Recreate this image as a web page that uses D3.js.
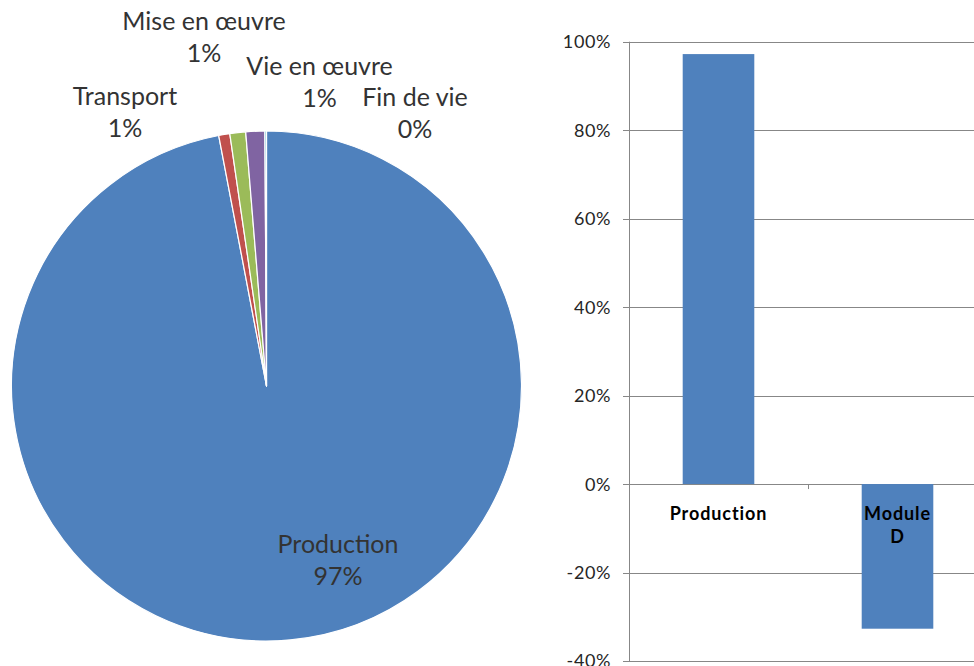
<!DOCTYPE html>
<html>
<head>
<meta charset="utf-8">
<script src="https://cdn.jsdelivr.net/npm/d3@7"></script>
<style>
  body { margin: 0; background: #fff; }
  svg { display: block; }
  text { font-family: Lato, "Open Sans", sans-serif; }
</style>
</head>
<body>
<div id="chart"></div>
<script>
// pie data (share of impact by life-cycle stage, %)
const pieStages = ['Production', 'Transport', 'Mise en œuvre', 'Vie en œuvre', 'Fin de vie'];
const pieValues = [97.0, 0.7, 1.0, 1.2, 0.1];
const pieColors = ['#4F81BD', '#C0504D', '#9BBB59', '#8064A2', '#4BACC6'];
// label anchor offsets from pie centre (Excel placed these by hand)
const pieLabelOffsets = [[71.5, 167], [-141.5, -281], [-62.5, -356], [53, -311], [148.5, -280]];

// bar data
const barCategories = [['Production'], ['Module', 'D']];
const barValues = [97.2, -32.7];
const yTicks = [-40, -20, 0, 20, 40, 60, 80, 100];

const W = 974, H = 666;
const svg = d3.select('#chart').append('svg')
  .attr('width', W)
  .attr('height', H);

// ---- Pie ----
const cx = 266.5, cy = 386, r = 255;
const pie = d3.pie().sort(null).value(d => d);
const arc = d3.arc().innerRadius(0).outerRadius(r);
const arcs = pie(pieValues);

const pg = svg.append('g')
  .attr('transform', 'translate(' + cx + ',' + cy + ')');

pg.selectAll('path')
  .data(arcs)
  .enter().append('path')
    .attr('d', arc)
    .attr('fill', (d, i) => pieColors[i])
    .attr('stroke', '#fff')
    .attr('stroke-width', 1.2)
    .attr('stroke-linejoin', 'round');

const fmt = d3.format('.0f');
const labels = pg.selectAll('text.plabel')
  .data(arcs)
  .enter().append('text')
    .attr('class', 'plabel')
    .attr('text-anchor', 'middle')
    .attr('font-size', '25px')
    .attr('fill', '#333')
    .attr('transform', (d, i) => 'translate(' + pieLabelOffsets[i][0] + ',' + pieLabelOffsets[i][1] + ')');
labels.append('tspan')
  .attr('x', 0)
  .text((d, i) => pieStages[i]);
labels.append('tspan')
  .attr('x', 0)
  .attr('dy', 32)
  .text(d => fmt(d.data) + '%');

// ---- Bars ----
const margin = {left: 629, right: -13};
const y = d3.scaleLinear().domain([-40, 100]).range([661, 41.7]);
const x = d3.scaleBand()
  .domain(barCategories.map(d => d.join(' ')))
  .range([margin.left, W - margin.right])
  .paddingInner(0.6)
  .paddingOuter(0.3);
const xEdges = d3.scaleBand()
  .domain(x.domain())
  .range([margin.left, W - margin.right]);

const bg = svg.append('g');

// gridlines
bg.append('g')
  .selectAll('line')
  .data(yTicks)
  .enter().append('line')
    .attr('x1', margin.left - 6)
    .attr('x2', W)
    .attr('y1', d => Math.round(y(d)) + 0.5)
    .attr('y2', d => Math.round(y(d)) + 0.5)
    .attr('stroke', '#878787')
    .attr('stroke-width', 1);

// tick labels
bg.append('g')
  .selectAll('text')
  .data(yTicks)
  .enter().append('text')
    .attr('x', 611)
    .attr('y', d => y(d))
    .attr('dy', '0.36em')
    .attr('text-anchor', 'end')
    .attr('font-size', '18px')
    .attr('letter-spacing', '0.6px')
    .attr('fill', '#262626')
    .text(d => d + '%');

// bars
bg.append('g')
  .selectAll('rect')
  .data(barValues)
  .enter().append('rect')
    .attr('x', (d, i) => x(barCategories[i].join(' ')))
    .attr('width', x.bandwidth())
    .attr('y', d => y(Math.max(0, d)))
    .attr('height', d => Math.abs(y(d) - y(0)))
    .attr('fill', '#4F81BD');

// vertical axis line
bg.append('line')
  .attr('x1', margin.left + 0.5)
  .attr('x2', margin.left + 0.5)
  .attr('y1', y(100))
  .attr('y2', y(-40))
  .attr('stroke', '#878787');

// category tick marks on zero line
bg.append('g')
  .selectAll('line')
  .data(x.domain().slice(1))
  .enter().append('line')
    .attr('x1', d => Math.round(xEdges(d)) + 0.5)
    .attr('x2', d => Math.round(xEdges(d)) + 0.5)
    .attr('y1', y(0))
    .attr('y2', y(0) + 5)
    .attr('stroke', '#878787');

// category labels
const cl = bg.append('g')
  .selectAll('text')
  .data(barCategories)
  .enter().append('text')
    .attr('text-anchor', 'middle')
    .attr('font-size', '18px')
    .attr('font-weight', 'bold')
    .attr('letter-spacing', '0.9px')
    .attr('fill', '#000')
    .attr('transform', d => 'translate(' + (x(d.join(' ')) + x.bandwidth() / 2) + ',' + (y(0) + 36) + ')');
cl.selectAll('tspan')
  .data(d => d)
  .enter().append('tspan')
    .attr('x', 0)
    .attr('dy', (d, i) => i === 0 ? 0 : 23)
    .text(d => d);
</script>
</body>
</html>
